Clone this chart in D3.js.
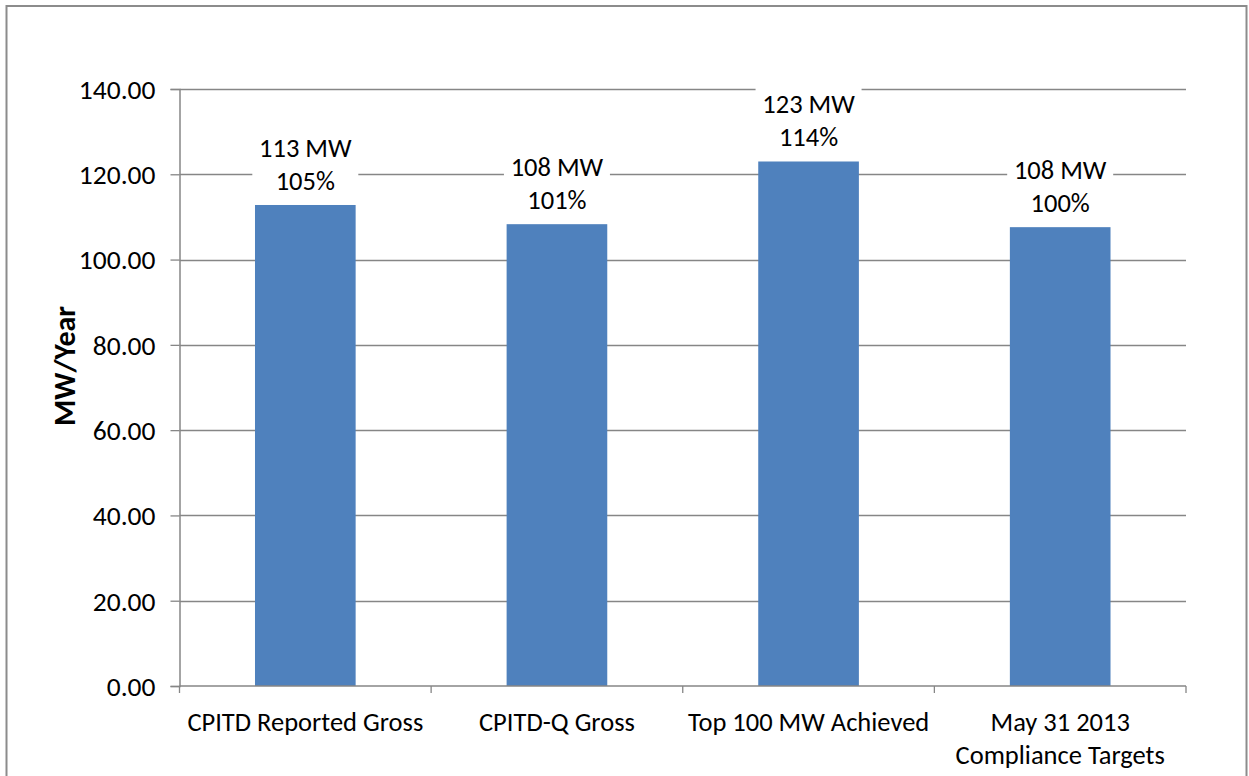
<!DOCTYPE html>
<html>
<head>
<meta charset="utf-8">
<script src="https://cdn.jsdelivr.net/npm/d3@7"></script>
<style>
  html, body { margin: 0; padding: 0; background: #fff; }
  svg { display: block; }
  text { font-family: Carlito, Lato, "Liberation Sans", sans-serif; fill: #000; }
</style>
</head>
<body>
<svg id="chart" width="1249" height="776"></svg>
<script>
const categories = [["CPITD Reported Gross"], ["CPITD-Q Gross"], ["Top 100 MW Achieved"], ["May 31 2013", "Compliance Targets"]];
const values = [112.8, 108.3, 123.0, 107.6];
const labelsMW = ["113 MW", "108 MW", "123 MW", "108 MW"];
const labelsPct = ["105%", "101%", "114%", "100%"];
const yTicks = [0, 20, 40, 60, 80, 100, 120, 140];
const yTitle = "MW/Year";

const svg = d3.select("#chart");
const plot = { left: 179.5, right: 1186, top: 89, bottom: 686 };

// outer border
svg.append("rect")
  .attr("x", 6.5).attr("y", 6).attr("width", 1240).attr("height", 800)
  .attr("fill", "none").attr("stroke", "#8c8c8c").attr("stroke-width", 2);

const x = d3.scaleBand()
  .domain(d3.range(categories.length))
  .range([plot.left, plot.right])
  .paddingInner(0.6).paddingOuter(0.3);

const y = d3.scaleLinear().domain([0, 140]).range([plot.bottom, plot.top]);

// gridlines
svg.append("g").selectAll("line").data(yTicks.filter(d => d > 0)).join("line")
  .attr("x1", plot.left).attr("x2", plot.right)
  .attr("y1", d => Math.round(y(d)) + 0.5).attr("y2", d => Math.round(y(d)) + 0.5)
  .attr("stroke", "#868686").attr("stroke-width", 1.3);

// y axis
const yAxis = svg.append("g")
  .attr("transform", `translate(${plot.left},0)`)
  .call(d3.axisLeft(y).tickValues(yTicks).tickFormat(d3.format(".2f")).tickSize(9).tickPadding(15));
yAxis.select(".domain").attr("stroke", "#868686").attr("stroke-width", 1.5);
yAxis.selectAll(".tick line").attr("stroke", "#868686").attr("stroke-width", 1.3);
yAxis.selectAll(".tick text").style("font-size", "27.5px").attr("fill", "#000").attr("dy", "0.34em");

// bars
svg.append("g").selectAll("rect").data(values).join("rect")
  .attr("x", (d, i) => x(i)).attr("width", x.bandwidth())
  .attr("y", d => y(d)).attr("height", d => y(0) - y(d))
  .attr("fill", "#4F81BD");

// x axis
const boundaries = d3.range(categories.length + 1).map(i => plot.left + i * (plot.right - plot.left) / categories.length);
svg.append("line")
  .attr("x1", plot.left).attr("x2", plot.right)
  .attr("y1", plot.bottom).attr("y2", plot.bottom)
  .attr("stroke", "#868686").attr("stroke-width", 1.5);
svg.append("g").selectAll("line").data(boundaries).join("line")
  .attr("x1", d => d).attr("x2", d => d)
  .attr("y1", plot.bottom).attr("y2", plot.bottom + 7)
  .attr("stroke", "#868686").attr("stroke-width", 1.3);

const xl = svg.append("g").selectAll("text").data(categories).join("text")
  .attr("x", (d, i) => x(i) + x.bandwidth() / 2)
  .attr("y", 731)
  .attr("text-anchor", "middle")
  .style("font-size", "26.5px");
xl.selectAll("tspan").data(d => d).join("tspan")
  .attr("x", function() { return this.parentNode.getAttribute("x"); })
  .attr("dy", (d, i) => i === 0 ? 0 : 33)
  .text(d => d);

// data labels with white background
const lg = svg.append("g").selectAll("g").data(values).join("g")
  .attr("transform", (d, i) => `translate(${x(i) + x.bandwidth() / 2},${y(d)})`);
lg.append("rect")
  .attr("x", -53).attr("width", 106)
  .attr("y", -77).attr("height", 68)
  .attr("fill", "#fff");
lg.append("text")
  .attr("text-anchor", "middle").attr("y", -48)
  .style("font-size", "26.5px")
  .text((d, i) => labelsMW[i]);
lg.append("text")
  .attr("text-anchor", "middle").attr("y", -15)
  .style("font-size", "26.5px")
  .text((d, i) => labelsPct[i]);

// y title
svg.append("text")
  .attr("transform", "translate(75,366) rotate(-90)")
  .attr("text-anchor", "middle")
  .style("font-size", "30px").style("font-weight", "bold")
  .text(yTitle);
</script>
</body>
</html>
